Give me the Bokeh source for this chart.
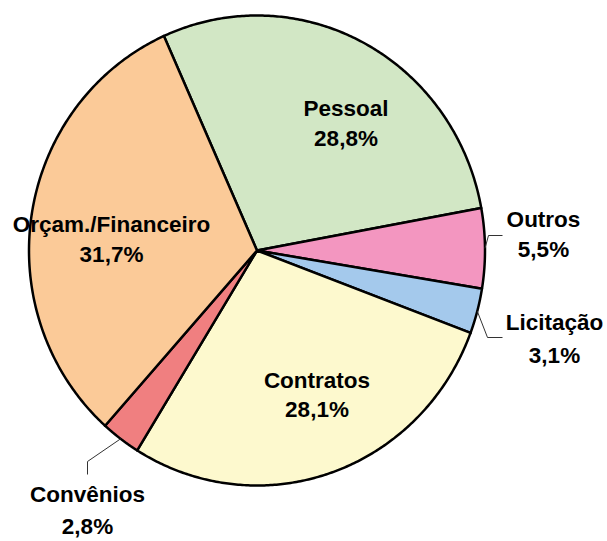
import numpy as np
from bokeh.plotting import figure
from bokeh.models import Range1d, ColumnDataSource
from bokeh.embed import file_html
from bokeh.resources import INLINE
from bokeh.core.properties import value

# ---- data ----
categories = ["Pessoal", "Outros", "Licitação", "Contratos", "Convênios", "Orçam./Financeiro"]
shares = [28.8, 5.5, 3.1, 28.1, 2.8, 31.7]
colors = ["#D2E7C5", "#F396C0", "#A4C9EC", "#FDF9CE", "#F07F80", "#FBCA98"]

# ---- layout (screen pixels) ----
W, H = 607, 541
cx, cy = 256.5, 250.0
rx, ry = 228.0, 235.0
start_deg = -24.1  # clockwise from top
# label centre x, name line middle, percent line middle
label_x = [345.5, 543, 554, 316.5, 87, 111]
label_y1 = [107.5, 219, 321.5, 379.5, 494, 224]
label_y2 = [138, 248.5, 354.5, 408.5, 526, 253.5]
# leader lines: elbow and end points for outside labels (index -> points)
leaders = {1: [(488, 235), (502, 235)],
           2: [(487, 337), (502, 337)],
           4: [(87, 461), (87, 474)]}

p = figure(width=W, height=H, output_backend="svg", toolbar_location=None,
           x_range=Range1d(0, W), y_range=Range1d(H, 0),
           min_border=0)
p.axis.visible = False
p.grid.visible = False
p.outline_line_color = None
p.background_fill_color = "white"
p.border_fill_color = "white"

total = sum(shares)
cum = np.concatenate([[0], np.cumsum(shares)]) / total * 360.0
xs, ys, mids = [], [], []
for i in range(len(shares)):
    a0 = np.radians(start_deg + cum[i])
    a1 = np.radians(start_deg + cum[i + 1])
    t = np.linspace(a0, a1, 200)
    px = np.concatenate([[cx], cx + rx * np.sin(t), [cx]])
    py = np.concatenate([[cy], cy - ry * np.cos(t), [cy]])
    xs.append(px.tolist())
    ys.append(py.tolist())
    mids.append((a0 + a1) / 2)

src = ColumnDataSource(dict(xs=xs, ys=ys, color=colors, cat=categories))
p.patches("xs", "ys", source=src, fill_color="color", line_color="black",
          line_width=2.5, line_join="round")

# leader lines
lx, ly = [], []
for i, pts in leaders.items():
    m = mids[i]
    ex, ey = cx + rx * np.sin(m), cy - ry * np.cos(m)
    lx.append([ex] + [q[0] for q in pts])
    ly.append([ey] + [q[1] for q in pts])
p.multi_line(lx, ly, line_color="#333333", line_width=1)

pct = [f"{v:.1f}%".replace(".", ",") for v in shares]
tsrc = ColumnDataSource(dict(x=label_x, y1=label_y1, y2=label_y2, name=categories, pct=pct))
for col, ycol in (("name", "y1"), ("pct", "y2")):
    p.text("x", ycol, text=col, source=tsrc, text_align="center",
           text_baseline="middle", text_font=value("Liberation Sans"),
           text_font_style="bold", text_font_size="22.5px", text_color="black")

open("out.html", "w").write(file_html(p, INLINE))
